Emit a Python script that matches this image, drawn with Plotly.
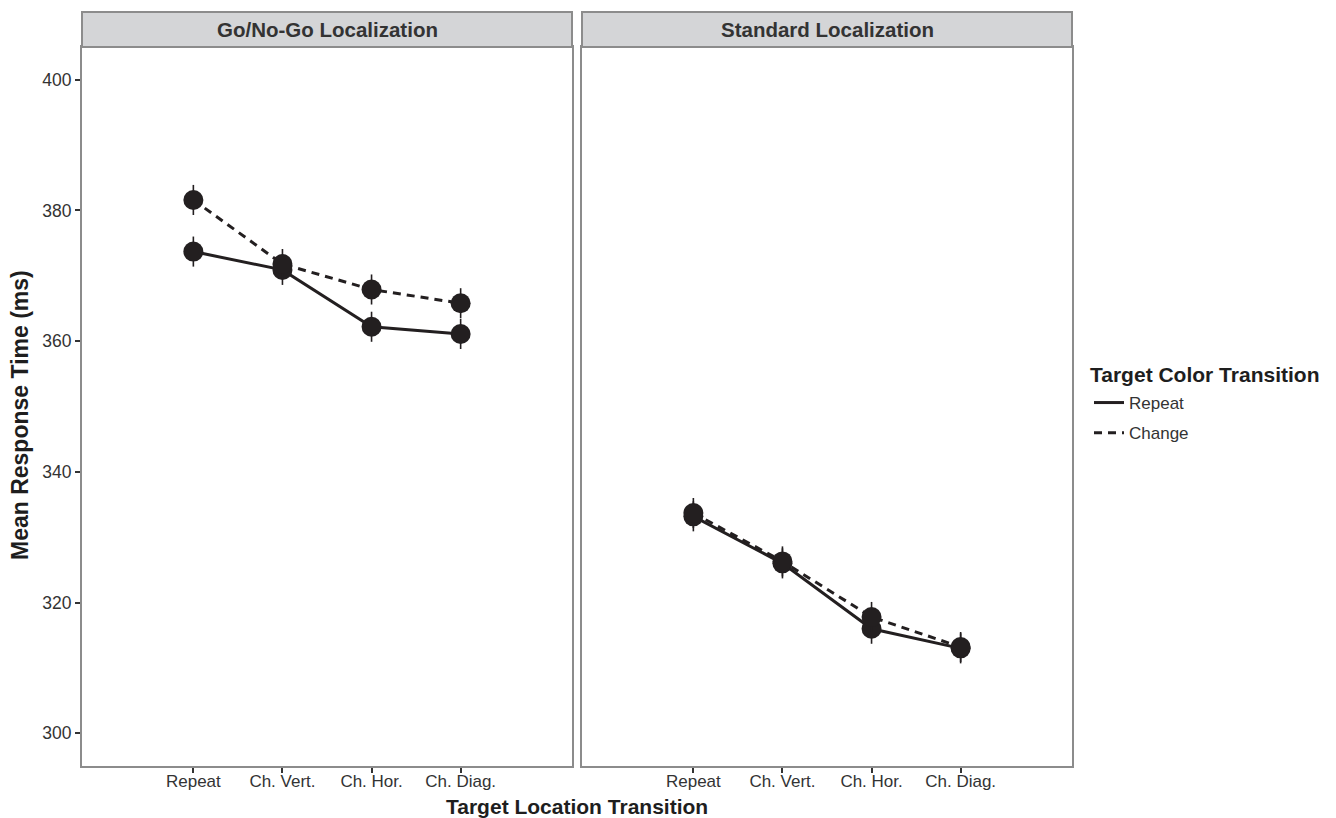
import plotly.graph_objects as go

categories = ["Repeat", "Ch. Vert.", "Ch. Hor.", "Ch. Diag."]
panels = ["Go/No-Go Localization", "Standard Localization"]
series = ["Repeat", "Change"]

gonogo_repeat = [373.7, 370.9, 362.2, 361.1]
gonogo_change = [381.6, 371.8, 367.9, 365.8]
standard_repeat = [333.2, 326.0, 316.0, 313.0]
standard_change = [333.7, 326.3, 317.8, 313.2]

gonogo_repeat_err = [2.3, 2.3, 2.3, 2.3]
gonogo_change_err = [2.3, 2.3, 2.3, 2.3]
standard_repeat_err = [2.3, 2.3, 2.3, 2.3]
standard_change_err = [2.3, 2.3, 2.3, 2.3]

y_ticks = [300, 320, 340, 360, 380, 400]

# page body has an 8px margin: figure is drawn from (8, 8)
OFF = 8
W, H = 1336 - OFF, 818 - OFF
INK = "#231f20"
BORDER = "#8c8c8c"
TXT = "#333333"
DARK = "#1e1e1e"
FONT = "Liberation Sans, Arial, sans-serif"

xpos = [1, 2, 3, 4]
data = {
    (0, "Repeat"): (gonogo_repeat, gonogo_repeat_err),
    (0, "Change"): (gonogo_change, gonogo_change_err),
    (1, "Repeat"): (standard_repeat, standard_repeat_err),
    (1, "Change"): (standard_change, standard_change_err),
}
dashes = {"Repeat": "solid", "Change": "8px,6px"}

fig = go.Figure()
for p in range(2):
    xa = "x" if p == 0 else "x2"
    ya = "y" if p == 0 else "y2"
    for s in series:
        vals, err = data[(p, s)]
        fig.add_trace(go.Scatter(
            x=xpos, y=vals, mode="lines", xaxis=xa, yaxis=ya,
            line=dict(color=INK, width=3, dash=dashes[s]),
            name=s, legendgroup=s, showlegend=(p == 0), hoverinfo="skip"))
    for s in series:
        vals, err = data[(p, s)]
        fig.add_trace(go.Scatter(
            x=xpos, y=vals, mode="markers", xaxis=xa, yaxis=ya,
            marker=dict(color=INK, size=20, line=dict(width=0)),
            error_y=dict(type="data", array=err, visible=True, color=INK,
                         thickness=1.6, width=0),
            showlegend=False, legendgroup=s, hoverinfo="skip"))


def px(v):
    return (v - OFF) / W


def py(v):
    return 1 - (v - OFF) / H


dom_l = [px(82), px(572)]
dom_r = [px(582), px(1072)]
ydom = [py(766), py(47)]

axis_common = dict(
    range=[-0.25, 5.25], tickvals=xpos, ticktext=categories,
    showline=True, mirror=True, linecolor=BORDER, linewidth=2,
    ticks="outside", ticklen=5, tickwidth=1.5, tickcolor=TXT,
    ticklabelstandoff=-6,
    showgrid=False, zeroline=False,
    tickfont=dict(family=FONT, size=17, color=TXT))
yaxis_common = dict(
    range=[295, 405], tickvals=y_ticks,
    showline=True, mirror=True, linecolor=BORDER, linewidth=2,
    showgrid=False, zeroline=False,
    tickfont=dict(family=FONT, size=17.5, color=TXT))

fig.update_layout(
    width=W, height=H,
    margin=dict(l=0, r=0, t=0, b=0),
    paper_bgcolor="white", plot_bgcolor="white",
    xaxis=dict(domain=dom_l, anchor="y", **axis_common),
    xaxis2=dict(domain=dom_r, anchor="y2", **axis_common),
    yaxis=dict(domain=ydom, anchor="x", ticks="outside", ticklen=5,
               tickwidth=1.5, tickcolor=TXT, **yaxis_common),
    yaxis2=dict(domain=ydom, anchor="x2", matches="y", ticks="",
                showticklabels=False, **yaxis_common),
    legend=dict(
        x=px(1089), y=py(385), xanchor="left", yanchor="top",
        font=dict(family=FONT, size=17, color=TXT),
        tracegroupgap=5, traceorder="grouped",
        bgcolor="rgba(0,0,0,0)", itemwidth=30),
    showlegend=True,
)

shapes = []
annotations = []
for dom, title in zip([dom_l, dom_r], panels):
    shapes.append(dict(type="rect", xref="paper", yref="paper",
                       x0=dom[0], x1=dom[1], y0=py(47), y1=py(12),
                       fillcolor="#d4d5d7", line=dict(color=BORDER, width=2),
                       layer="above"))
    annotations.append(dict(xref="paper", yref="paper",
                            x=(dom[0] + dom[1]) / 2, y=(py(47) + py(12)) / 2,
                            text="<b>" + title + "</b>", showarrow=False,
                            xanchor="center", yanchor="middle",
                            font=dict(family=FONT, size=20.5, color=TXT)))
annotations.append(dict(xref="paper", yref="paper", x=px(577), y=py(806),
                        text="<b>Target Location Transition</b>", showarrow=False,
                        xanchor="center", yanchor="middle",
                        font=dict(family=FONT, size=21, color=DARK)))
annotations.append(dict(xref="paper", yref="paper", x=px(20), y=py(415),
                        text="<b>Mean Response Time (ms)</b>", showarrow=False,
                        textangle=-90, xanchor="center", yanchor="middle",
                        font=dict(family=FONT, size=23, color=DARK)))
annotations.append(dict(xref="paper", yref="paper", x=px(1088), y=py(374),
                        text="<b>Target Color Transition</b>", showarrow=False,
                        xanchor="left", yanchor="middle",
                        font=dict(family=FONT, size=21, color=DARK)))
fig.update_layout(shapes=shapes, annotations=annotations)

fig.write_html("out.html")
